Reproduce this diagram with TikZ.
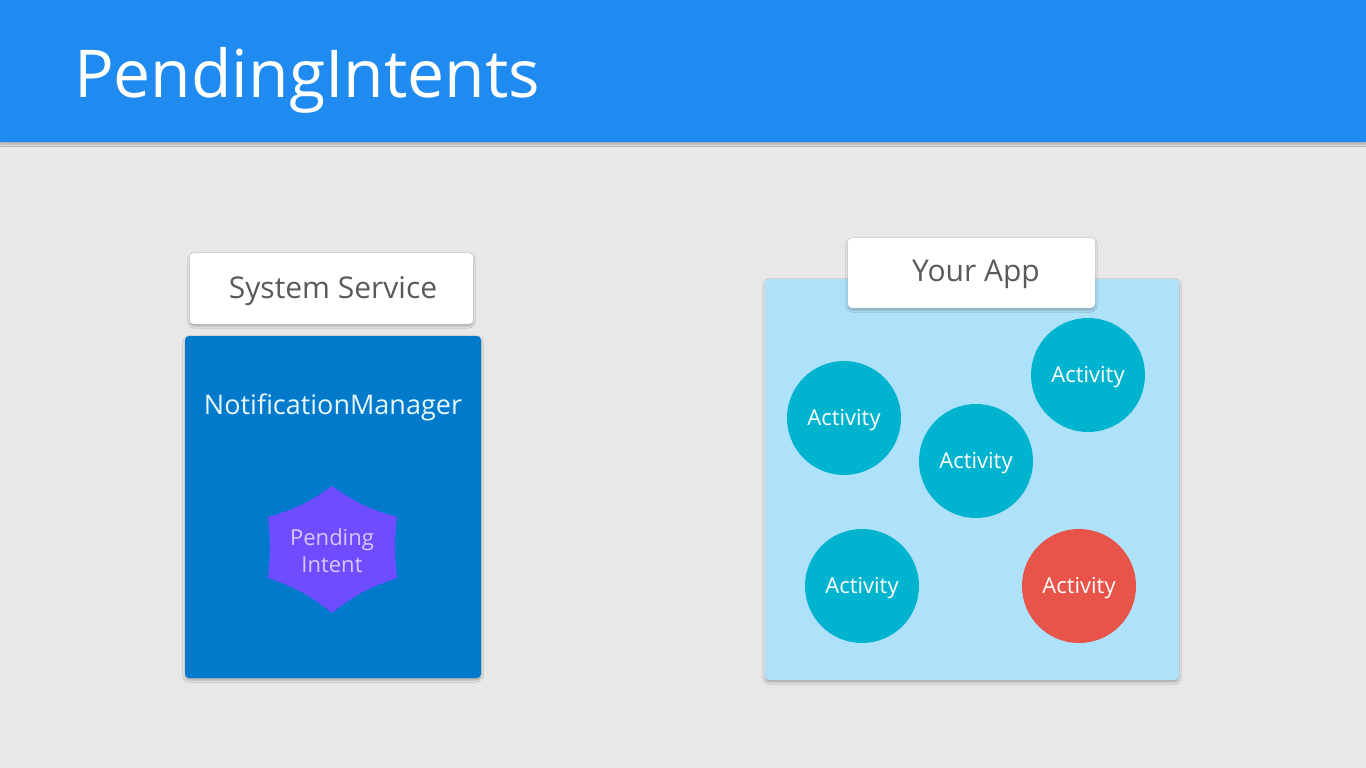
\documentclass[tikz,border=0pt]{standalone}
\usepackage{fontspec}
\setmainfont{Open Sans}
\usetikzlibrary{shadows.blur}
\definecolor{bg}{RGB}{232,232,232}
\definecolor{header}{RGB}{31,139,240}
\definecolor{nmblue}{RGB}{2,122,204}
\definecolor{applight}{RGB}{174,225,250}
\definecolor{actteal}{RGB}{0,180,208}
\definecolor{actred}{RGB}{232,83,74}
\definecolor{pivio}{RGB}{110,76,255}
\definecolor{pitext}{RGB}{214,200,250}
\definecolor{labgray}{RGB}{90,90,90}
\definecolor{nmtext}{RGB}{230,248,252}
\begin{document}
\begin{tikzpicture}[x=1pt,y=-1pt,
  shadowed/.style={blur shadow={shadow xshift=0pt,shadow yshift=-2pt,shadow blur steps=6,shadow opacity=28}},
  card/.style={shadowed,fill=white,rounded corners=4pt,inner sep=0pt},
  panel/.style={shadowed,rounded corners=4pt,inner sep=0pt},
  capmid/.style={text height=#1,text depth=0pt},
  cardtext/.style={text=labgray,font=\fontsize{30}{34}\selectfont,inner sep=0pt,capmid=21.4pt},
  activity/.style={circle,fill=actteal,minimum size=114pt,inner sep=0pt,text=white,font=\fontsize{22}{24}\selectfont,capmid=15.7pt},
]
\useasboundingbox (0,0) rectangle (1366,768);
\fill[bg] (0,0) rectangle (1366,768);
% header
\node[shadowed,fill=header,minimum width=1366pt,minimum height=142pt,inner sep=0pt,anchor=north west] (header) at (0,0) {};
\node[anchor=base west,inner sep=0pt,text=white,font=\fontsize{66}{70}\selectfont] (title) at (74,97) {PendingIntents};

% left: system service
\node[panel,fill=nmblue,minimum width=296pt,minimum height=342pt] (nm) at (333,507) {};
\node[card,minimum width=283pt,minimum height=71pt] (sys) at (331.5,288.5) {};
\node[cardtext] (syslabel) at (333,288) {System Service};
\node[text=nmtext,font=\fontsize{27}{30}\selectfont,inner sep=0pt,capmid=19.3pt] (nmlabel) at (333,405) {NotificationManager};

\coordinate (pt) at (332,486);
\coordinate (pur) at (397,517);
\coordinate (plr) at (397,578);
\coordinate (pb) at (332,613);
\coordinate (pll) at (268,578);
\coordinate (pul) at (268,517);
\fill[pivio] (pt) to[bend right=10] (pur) to[bend right=6] (plr) to[bend right=10] (pb)
  to[bend right=10] (pll) to[bend right=6] (pul) to[bend right=10] cycle;
\node[text=pitext,font=\fontsize{22}{27}\selectfont,align=center,inner sep=0pt] (pi) at (332,551) {Pending\\Intent};

% right: your app
\node[panel,fill=applight,minimum width=414pt,minimum height=401pt] (app) at (972,479.5) {};
\node[card,minimum width=247pt,minimum height=70pt] (yourapp) at (971.5,273) {};
\node[cardtext] (yourapplabel) at (976,271) {Your App};

\node[activity] (a1) at (844,418) {Activity};
\node[activity] (a2) at (1088,375) {Activity};
\node[activity] (a3) at (976,461) {Activity};
\node[activity] (a4) at (862,586) {Activity};
\node[activity,fill=actred] (a5) at (1079,586) {Activity};
\end{tikzpicture}
\end{document}
